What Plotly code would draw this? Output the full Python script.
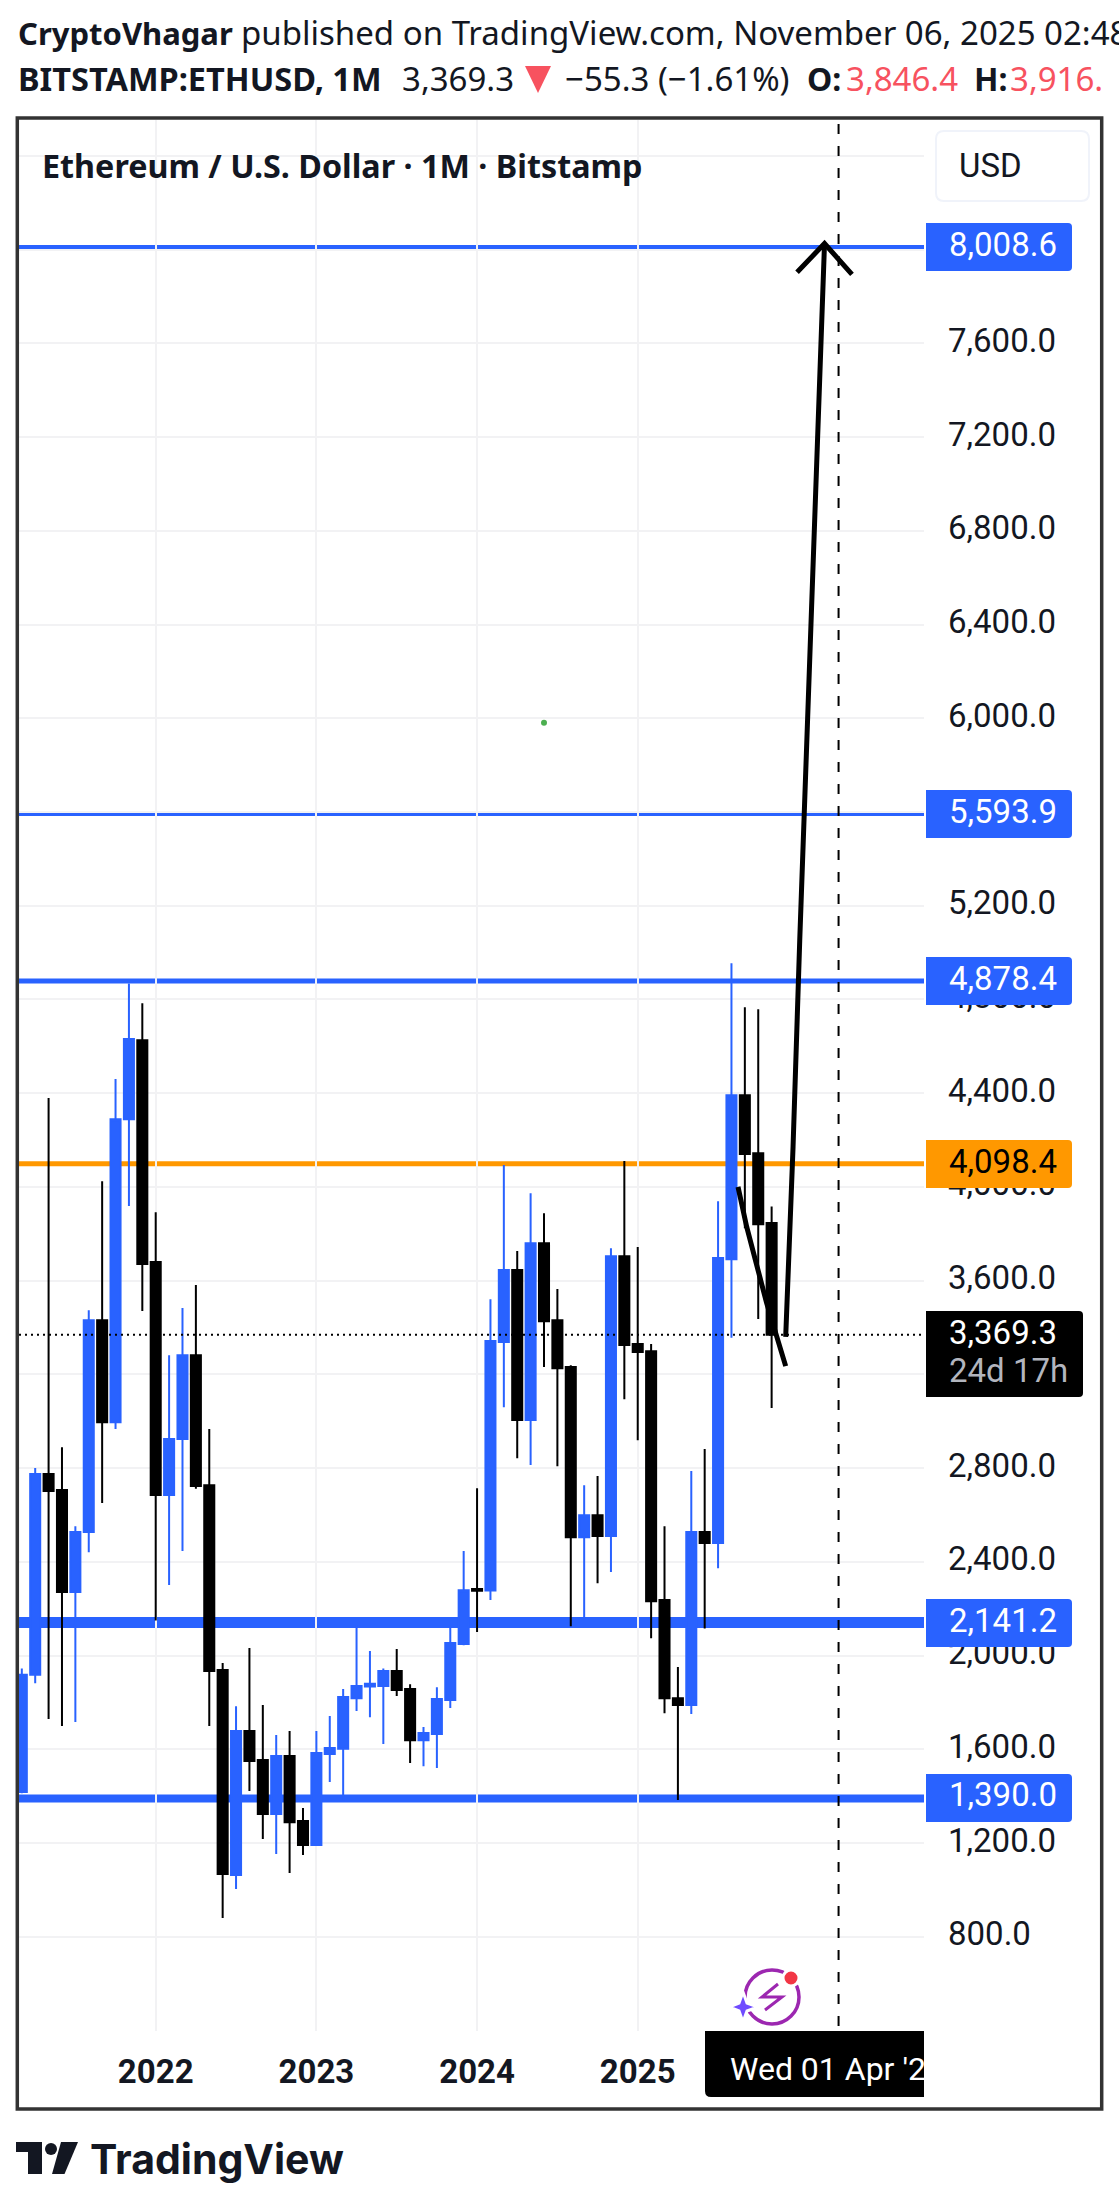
import plotly.graph_objects as go

W, H = 1119, 2209

# monthly bars, bar 0 = Jan 2022, first bar = Mar 2021
bar_index = list(range(-10, 47))
opens = [1418, 1918, 2775, 2706, 2271, 2527, 3431, 2996, 4289, 4626,
         3679, 2685, 2924, 3282, 2727, 1938, 1063, 1678, 1554, 1324, 1571, 1294,
         1191, 1580, 1602, 1818, 1868, 1870, 1934, 1857, 1639, 1665, 1810, 2049,
         2284, 2278, 3338, 3645, 3005, 3760, 3431, 3231, 2505, 2599, 2510, 3704,
         3329, 3299, 2237, 1818, 1789, 2527, 2480, 3691, 4391, 4144, 3846.4]
highs = [1945, 2800, 4379, 2889, 2552, 3474, 4024, 4460, 4868, 4784,
         3892, 3282, 3483, 3581, 2967, 1968, 1784, 2032, 1789, 1661, 1678, 1349,
         1678, 1742, 1857, 2130, 2019, 1945, 2028, 1878, 1695, 1865, 2130, 2446,
         2714, 3521, 4093, 3726, 3973, 3888, 3564, 3239, 2727, 2766, 3738, 4110,
         3743, 3329, 2552, 1951, 2787, 2881, 3939, 4954, 4767, 4758, 3916]
lows = [1412, 1882, 1729, 1699, 1716, 2441, 2651, 2967, 3918, 3470,
        2150, 2301, 2446, 2712, 1699, 880, 1004, 1422, 1217, 1153, 1072, 1149,
        1191, 1460, 1380, 1763, 1737, 1622, 1827, 1541, 1528, 1520, 1776, 2044,
        2100, 2237, 3060, 2842, 2813, 3231, 2808, 2125, 2159, 2309, 2356, 3094,
        2919, 2074, 1754, 1383, 1750, 2115, 2373, 3356, 3824, 3436, 3056]
closes = [1918, 2775, 2702, 2271, 2527, 3431, 2996, 4289, 4631, 3671,
          2685, 2924, 3282, 2723, 1934, 1068, 1678, 1550, 1324, 1571, 1289, 1191,
          1584, 1605, 1823, 1870, 1880, 1934, 1853, 1639, 1669, 1814, 2053, 2279,
          2276, 3342, 3645, 3005, 3760, 3427, 3226, 2505, 2599, 2510, 3704, 3325,
          3295, 2232, 1818, 1789, 2527, 2480, 3696, 4391, 4140, 3841, 3369.3]

year_bars = [0, 12, 24, 36]
year_labels = ["2022", "2023", "2024", "2025"]
price_ticks = [800, 1200, 1600, 2000, 2400, 2800, 3200, 3600, 4000, 4400, 4800,
               5200, 5600, 6000, 6400, 6800, 7200, 7600, 8000, 8400]
# 3,200 / 5,600 / 8,000 / 8,400 sit fully under a price tag or the USD box
price_labels = ["800.0", "1,200.0", "1,600.0", "2,000.0", "2,400.0", "2,800.0", "", "3,600.0", "4,000.0",
                "4,400.0", "4,800.0", "5,200.0", "", "6,000.0", "6,400.0", "6,800.0", "7,200.0", "7,600.0",
                "", ""]

levels = [8008.6, 5593.9, 4878.4, 4098.4, 2141.2, 1390.0]
level_widths = [5, 5, 5, 5, 11, 8]
level_colors = ["#2962ff", "#2962ff", "#2962ff", "#ff9800", "#2962ff", "#2962ff"]
last_price = 3369.3
cursor_bar = 51

# hand drawn arrow, in bars and prices
drop_x = [43.49, 44.14, 45.63, 47.05]
drop_y = [4000, 3829, 3504, 3235]
rise_x = [47.05, 47.6, 48.1, 49.95]
rise_y = [3360, 4171, 5053, 8026]
head_x = [47.9, 49.95, 52.0]
head_y = [7903, 8026, 7894]

BLUE = "#2962ff"
DARK = "#131722"
RED = "#f7525f"
SANS = "Noto Sans"
AXIS_FONT = "Roboto"


def px(x):
    return x / W


def py(y):
    return 1 - y / H


def round_rect(x0, y0, x1, y1, r=(4, 4, 4, 4)):
    # corners: top-left, top-right, bottom-right, bottom-left
    tl, tr, br, bl = r
    return (f"M {px(x0 + tl)} {py(y0)} L {px(x1 - tr)} {py(y0)} Q {px(x1)} {py(y0)} {px(x1)} {py(y0 + tr)} "
            f"L {px(x1)} {py(y1 - br)} Q {px(x1)} {py(y1)} {px(x1 - br)} {py(y1)} "
            f"L {px(x0 + bl)} {py(y1)} Q {px(x0)} {py(y1)} {px(x0)} {py(y1 - bl)} "
            f"L {px(x0)} {py(y0 + tl)} Q {px(x0)} {py(y0)} {px(x0 + tl)} {py(y0)} Z")


def poly_path(points, close=True):
    s = "M " + " L ".join(f"{px(x)} {py(y)}" for x, y in points)
    return s + (" Z" if close else "")


def text(x, y, s, size=33, color=DARK, family=AXIS_FONT, anchor="left"):
    return dict(xref="paper", yref="paper", x=px(x), y=py(y), text=s, showarrow=False,
                xanchor=anchor, yanchor="middle", align="left",
                font=dict(family=family, size=size, color=color))


fig = go.Figure()

fig.add_trace(go.Candlestick(
    x=bar_index, open=opens, high=highs, low=lows, close=closes,
    increasing=dict(line=dict(color=BLUE, width=2), fillcolor=BLUE),
    decreasing=dict(line=dict(color="#000000", width=2), fillcolor="#000000"),
    whiskerwidth=0, hoverinfo="skip", showlegend=False,
))
# small green dot left on the chart
fig.add_trace(go.Scatter(x=[29], y=[5981], mode="markers", hoverinfo="skip", showlegend=False,
                         marker=dict(color="#4caf50", size=6)))

shapes = []
for lv, w, c in zip(levels, level_widths, level_colors):
    shapes.append(dict(type="line", xref="paper", x0=px(19), x1=px(924), yref="y", y0=lv, y1=lv,
                       line=dict(color=c, width=w), layer="below"))

shapes.append(dict(type="line", xref="paper", x0=px(19), x1=px(924), yref="y", y0=last_price, y1=last_price,
                   line=dict(color="#000000", width=2, dash="2px,4px")))
shapes.append(dict(type="line", xref="x", x0=cursor_bar, x1=cursor_bar, yref="paper", y0=py(2026), y1=py(120),
                   line=dict(color="#000000", width=2, dash="10px,12px")))

# hand drawn arrow
for xs, ys in [(drop_x, drop_y), (rise_x, rise_y), (head_x, head_y)]:
    p = "M " + " L ".join(f"{x} {y}" for x, y in zip(xs, ys))
    shapes.append(dict(type="path", xref="x", yref="y", path=p, line=dict(color="#000000", width=5)))

# price tags
for top, c in [(223, BLUE), (790, BLUE), (957, BLUE), (1140, "#ff9800"), (1599, BLUE), (1774, BLUE)]:
    shapes.append(dict(type="path", xref="paper", yref="paper",
                       path=round_rect(926, top, 1072, top + 48, r=(0, 4, 4, 0)),
                       fillcolor=c, line=dict(width=0)))
shapes.append(dict(type="path", xref="paper", yref="paper", path=round_rect(926, 1311, 1083, 1397, r=(0, 4, 4, 0)),
                   fillcolor="#000000", line=dict(width=0)))

# USD box
shapes.append(dict(type="path", xref="paper", yref="paper", path=round_rect(936, 131, 1089, 201, r=(8, 8, 8, 8)),
                   fillcolor="#ffffff", line=dict(color="#f0f3fa", width=2)))

# date tag under the cursor
shapes.append(dict(type="path", xref="paper", yref="paper", path=round_rect(705, 2031, 924, 2097, r=(0, 0, 0, 6)),
                   fillcolor="#000000", line=dict(width=0)))

# red triangle in the header
shapes.append(dict(type="path", xref="paper", yref="paper", fillcolor=RED, line=dict(width=0),
                   path=poly_path([(525, 66), (551, 66), (538, 93)])))

# flash icon
shapes.append(dict(type="circle", xref="paper", yref="paper", x0=px(745), x1=px(799), y0=py(1970), y1=py(2024),
                   fillcolor="#ffffff", line=dict(color="#9c27b0", width=3.5)))
shapes.append(dict(type="path", xref="paper", yref="paper", line=dict(color="#9c27b0", width=3),
                   path=poly_path([(778, 1984), (762, 1997), (782, 1997), (765, 2010)], close=False)))
shapes.append(dict(type="circle", xref="paper", yref="paper", x0=px(783), x1=px(799), y0=py(1970), y1=py(1986),
                   fillcolor="#f23645", line=dict(color="#ffffff", width=3)))
shapes.append(dict(type="path", xref="paper", yref="paper", fillcolor="#6f4bff",
                   line=dict(color="#ffffff", width=3),
                   path=poly_path([(743, 1992), (747, 2003), (758, 2007), (747, 2011), (743, 2022),
                                   (739, 2011), (729, 2007), (739, 2003)])))

# frame
shapes.append(dict(type="rect", xref="paper", yref="paper", x0=px(17.3), x1=px(1101.7), y0=py(118), y1=py(2109),
                   line=dict(color="#333333", width=3.5)))

# TradingView logo
shapes.append(dict(type="path", xref="paper", yref="paper", fillcolor=DARK, line=dict(width=0),
                   path=poly_path([(16, 2142), (42, 2142), (42, 2174), (28, 2174), (28, 2152), (16, 2152)])))
shapes.append(dict(type="circle", xref="paper", yref="paper", fillcolor=DARK, line=dict(width=0),
                   x0=px(45), x1=px(57), y0=py(2143), y1=py(2155)))
shapes.append(dict(type="path", xref="paper", yref="paper", fillcolor=DARK, line=dict(width=0),
                   path=poly_path([(61, 2142), (78, 2142), (64.5, 2174), (52, 2174)])))

annotations = [
    text(16, 33, "<b>CryptoVhagar</b>", size=31, family=SANS),
    text(239, 33, "published on TradingView.com, November 06, 2025 02:48", size=33, family=SANS),
    text(16, 79, "<b>BITSTAMP:ETHUSD, 1M</b>", size=32.5, family=SANS),
    text(400, 79, "3,369.3", family=SANS),
    text(563, 79, "−55.3 (−1.61%)", family=SANS),
    text(805, 79, "<b>O:</b>", size=32, family=SANS),
    text(844, 79, "3,846.4", color=RED, family=SANS),
    text(972, 79, "<b>H:</b>", size=32, family=SANS),
    text(1008, 79, "3,916.", color=RED, family=SANS),
    text(40, 165, "<b>Ethereum / U.S. Dollar · 1M · Bitstamp</b>", size=32.3, family=SANS),
    text(957, 165, "USD"),
    text(947, 244, "8,008.6", color="#ffffff"),
    text(947, 811, "5,593.9", color="#ffffff"),
    text(947, 978, "4,878.4", color="#ffffff"),
    text(947, 1161, "4,098.4", color="#000000"),
    text(947, 1620, "2,141.2", color="#ffffff"),
    text(947, 1795, "1,390.0", color="#ffffff"),
    text(947, 1332, "3,369.3", color="#ffffff"),
    text(947, 1370, "24d 17h", color="#b2b5be"),
    text(728, 2069, "Wed 01 Apr '26", size=32, color="#ffffff"),
    # the date tag is cut off at the price scale
    dict(xref="paper", yref="paper", x=px(924), y=py(2067), text=" ", showarrow=False, xanchor="left",
         yanchor="middle", width=60, height=62, bgcolor="#ffffff", borderpad=0),
    text(88, 2159, "<b>TradingView</b>", size=41, family="Inter"),
]

fig.update_layout(
    width=W, height=H, autosize=False,
    margin=dict(l=0, r=0, t=0, b=0),
    paper_bgcolor="#ffffff", plot_bgcolor="#ffffff",
    boxgap=0.25, boxgroupgap=0,
    showlegend=False,
    shapes=shapes, annotations=annotations,
    xaxis=dict(domain=[px(19), px(924)], range=[-10.21, 57.38], rangeslider=dict(visible=False),
               tickmode="array", tickvals=year_bars, ticktext=year_labels, ticks="", showline=False,
               zeroline=False, showgrid=True, gridcolor="#f2f2f4", gridwidth=2,
               tickfont=dict(family=AXIS_FONT, size=33, color=DARK, weight=700), ticklabelstandoff=18),
    yaxis=dict(domain=[py(2031), py(120)], range=[397.7, 8553], side="right",
               tickmode="array", tickvals=price_ticks, ticktext=price_labels, ticks="", showline=False,
               zeroline=False, showgrid=True, gridcolor="#f2f2f4", gridwidth=2,
               tickfont=dict(family=AXIS_FONT, size=33, color=DARK), ticklabelstandoff=23, ticklabelshift=-3),
)

fig.write_html("out.html", config=dict(displayModeBar=False), post_script="document.body.style.margin='0';")
